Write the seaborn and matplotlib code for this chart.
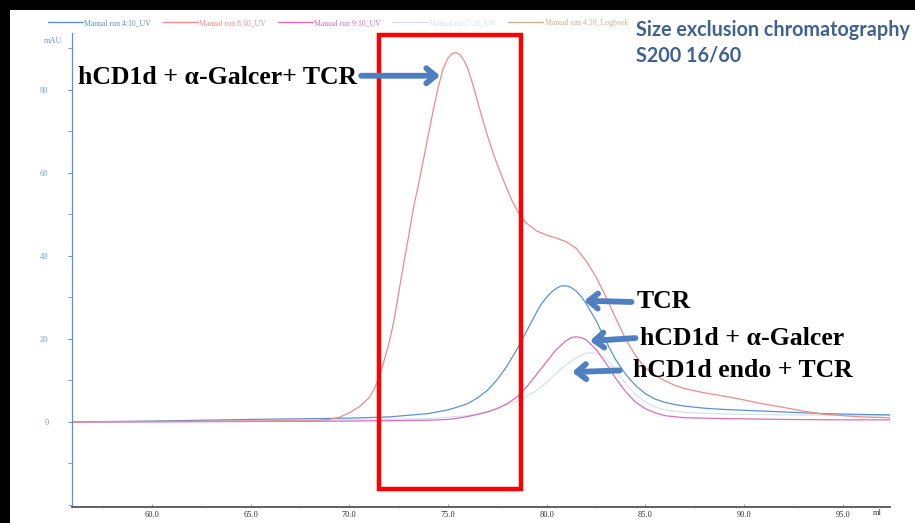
import numpy as np
import pandas as pd
import matplotlib
matplotlib.use('Agg')
import matplotlib.pyplot as plt
import seaborn as sns
from matplotlib.lines import Line2D
from matplotlib.patches import Rectangle
from matplotlib.ticker import MultipleLocator, FormatStrFormatter

# elution volume (ml) and absorbance (mAU)
run8_ml = [56, 60, 65, 68, 68.5, 69, 69.5, 70, 70.5, 71, 71.25, 71.5, 71.75, 72, 72.25, 72.5, 72.75, 73,
           73.25, 73.5, 73.75, 74, 74.25, 74.5, 74.75, 75, 75.2, 75.4, 75.6, 75.8, 76, 76.25, 76.5,
           76.75, 77, 77.25, 77.5, 77.75, 78, 78.25, 78.5, 78.75, 79, 79.5, 80, 80.5, 81, 81.5, 82,
           82.5, 83, 83.5, 84, 84.5, 85, 85.5, 86, 86.5, 87, 88, 89, 90, 91, 92, 93, 94, 95, 96, 97.4]
run8_mau = [0.0, 0.1, 0.2, 0.3, 0.4, 0.6, 1.1, 2.2, 3.6, 5.8, 7.8, 10.5, 14.5, 18.8, 24, 31, 38, 44.5,
            51.5, 57, 63, 69, 75, 80.5, 85, 87.6, 88.7, 89, 88.5, 87.2, 85.2, 81.5, 77.2,
            73, 69, 65.3, 62, 59, 56, 53.3, 51, 49.2, 47.8, 46, 45, 44.3, 43.4, 41.8, 38.8,
            35, 30.2, 25, 20, 16, 13, 11.2, 9.9, 8.8, 8.0, 7.0, 6.2, 5.3, 4.3, 3.5, 2.6, 1.9, 1.5, 1.2, 1.0]

run4_ml = [56, 60, 65, 70, 72, 74, 75, 75.5, 76, 76.5, 77, 77.5, 78, 78.5, 79, 79.5, 79.75, 80,
           80.25, 80.5, 80.7, 80.9, 81.1, 81.3, 81.5, 81.75, 82, 82.5, 83, 83.5, 84, 84.5, 85, 85.5,
           86, 86.5, 87, 88, 89, 90, 92, 94, 96, 97.4]
run4_mau = [0.0, 0.2, 0.6, 0.9, 1.2, 2.0, 2.9, 3.6, 4.4, 5.8, 7.6, 10.2, 13.5, 17.5, 22, 26.5, 28.5, 30,
            31.3, 32.2, 32.7, 32.8, 32.7, 32.2, 31.5, 30.2, 28.5, 24.5, 19.5, 15, 11.5, 8.8, 6.8, 5.5,
            4.7, 4.2, 3.8, 3.3, 3.0, 2.8, 2.4, 2.0, 1.8, 1.7]

run9_ml = [56, 60, 65, 70, 74, 75, 75.5, 76, 76.5, 77, 77.5, 78, 78.5, 79, 79.5, 80, 80.5, 81,
           81.25, 81.5, 81.75, 82, 82.5, 83, 83.5, 84, 84.5, 85, 85.5, 86, 87, 89, 92, 95, 97.4]
run9_mau = [0.0, 0.0, 0.1, 0.2, 0.4, 0.6, 0.9, 1.3, 1.8, 2.4, 3.2, 4.4, 6.0, 8.5, 11.5, 14.5, 17.5, 19.6,
            20.3, 20.5, 20.3, 19.8, 17.5, 14.2, 10.5, 7.3, 4.8, 3.2, 2.2, 1.5, 1.0, 0.8, 0.6, 0.5, 0.5]

run7_ml = [56, 60, 65, 70, 74, 76, 77, 77.5, 78, 78.5, 79, 79.5, 80, 80.5, 81, 81.5, 82, 82.5,
           83, 83.5, 84, 84.5, 85, 85.5, 86, 87, 89, 92, 95, 97.4]
run7_mau = [0.0, 0.1, 0.3, 0.5, 0.8, 1.5, 2.5, 3.4, 4.2, 5.0, 6.2, 7.6, 9.5, 11.8, 13.8, 15.5, 16.6, 16.6,
            15.3, 12.5, 9.2, 6.6, 4.8, 3.6, 2.9, 2.3, 1.9, 1.7, 1.6, 1.5]

run_names = ['Manual run 4:10_UV', 'Manual run 8:10_UV', 'Manual run 9:10_UV',
             'Manual run 7:10_UV', 'Manual run 4:10_Logbook']
run_colors = ['#5b93cf', '#f08a8a', '#e06cb8', '#d6e4ea', '#c9b28c']

x_ticks = [60.0, 65.0, 70.0, 75.0, 80.0, 85.0, 90.0, 95.0]
y_ticks = [0, 20, 40, 60, 80]

frames = []
for name, xs, ys in [(run_names[0], run4_ml, run4_mau), (run_names[1], run8_ml, run8_mau),
                     (run_names[2], run9_ml, run9_mau), (run_names[3], run7_ml, run7_mau)]:
    frames.append(pd.DataFrame({'ml': xs, 'mAU': ys, 'run': name}))
df = pd.concat(frames, ignore_index=True)

sns.set_theme(style='white')
plt.rcParams['font.family'] = ['Liberation Serif', 'DejaVu Serif']

W, H = 915, 523
fig = plt.figure(figsize=(W / 100, H / 100), dpi=100, facecolor='black')
fig.patches.append(Rectangle((10 / W, 0), 1, (H - 10) / H, transform=fig.transFigure,
                             facecolor='white', edgecolor='none', zorder=-10))

ax = fig.add_axes([72 / W, 16 / H, (890 - 72) / W, (507 - 33) / H])
ax.set_facecolor('none')

# lightest trace first so the others sit on top
order = [run_names[3], run_names[0], run_names[2], run_names[1]]
pal = dict(zip(run_names, run_colors))
for name in order:
    sns.lineplot(data=df[df['run'] == name], x='ml', y='mAU', color=pal[name],
                 linewidth=0.9, sort=False, estimator=None, ax=ax)

ax.set_xlim(55.95, 97.4)
ax.set_ylim(-20.5, 93.7)
ax.set_xticks(x_ticks)
ax.xaxis.set_major_formatter(FormatStrFormatter('%.1f'))
ax.set_yticks(y_ticks)
ax.yaxis.set_minor_locator(MultipleLocator(10))
ax.xaxis.set_minor_locator(MultipleLocator(2.5))
ax.set_xlabel('')
ax.set_ylabel('')

for s in ['top', 'right']:
    ax.spines[s].set_visible(False)
ax.spines['left'].set_color('#5b93cf')
ax.spines['left'].set_linewidth(0.9)
ax.spines['bottom'].set_color('#555555')
ax.spines['bottom'].set_linewidth(1.3)

ax.tick_params(axis='y', which='major', direction='out', length=3, width=0.8, color='#5b93cf',
               labelsize=6, labelcolor='#6d9fd6', pad=14, left=True)
ax.tick_params(axis='y', which='minor', direction='out', length=3, width=0.6, color='#5b93cf', left=True)
ax.tick_params(axis='x', which='major', direction='in', length=2, width=0.6, color='#888888',
               labelsize=6, labelcolor='#333333', pad=3, bottom=True)
ax.tick_params(axis='x', which='minor', direction='in', length=1.5, width=0.5, color='#aaaaaa', bottom=True)

fig.text(53 / W, 1 - 41 / H, 'mAU', fontsize=6, color='#6d9fd6', ha='center', va='center')
fig.text(877 / W, 1 - 513 / H, 'ml', fontsize=6, color='#333333', ha='center', va='center')

# legend strip above the plot
handles = [Line2D([], [], color=c, linewidth=1.0) for c in run_colors]
leg = fig.legend(handles, run_names, loc='center left', bbox_to_anchor=(48 / W, 1 - 23 / H),
                 ncol=5, frameon=False, fontsize=5.6, handlelength=4.5, handletextpad=0.15,
                 columnspacing=1.55, borderaxespad=0, borderpad=0)
for txt, c in zip(leg.get_texts(), run_colors):
    txt.set_color(c)

# title
fig.text(636 / W, 1 - 30 / H, 'Size exclusion chromatography', fontsize=14.2, fontweight='bold',
         color='#3f6291', family=['Lato', 'DejaVu Sans'], ha='left', va='center')
fig.text(636 / W, 1 - 55 / H, 'S200 16/60', fontsize=14.2, fontweight='bold',
         color='#3f6291', family=['Lato', 'DejaVu Sans'], ha='left', va='center')

# highlight box around the complex peak
ax.add_patch(Rectangle((71.5, -16.1), 78.69 - 71.5, 93.3 + 16.1, fill=False,
                       edgecolor='#ff0000', linewidth=3.2, clip_on=False, zorder=5))

arrow_kw = dict(arrowstyle='->,head_length=0.55,head_width=0.45', color='#4f7fbf', lw=4.2,
                shrinkA=0, shrinkB=0)
label_kw = dict(fontsize=18.5, fontweight='bold', color='black', va='center')

ax.annotate('', xy=(74.6, 83.4), xytext=(70.6, 83.4), arrowprops=arrow_kw, zorder=6)
ax.text(56.25, 83.0, 'hCD1d + α-Galcer+ TCR', ha='left', **label_kw)

ax.annotate('', xy=(81.9, 29.2), xytext=(84.3, 28.9), arrowprops=arrow_kw, zorder=6)
ax.text(84.57, 29.0, 'TCR', ha='left', **label_kw)

ax.annotate('', xy=(82.2, 19.5), xytext=(84.5, 20.2), arrowprops=arrow_kw, zorder=6)
ax.text(84.72, 20.0, 'hCD1d + α-Galcer', ha='left', **label_kw)

ax.annotate('', xy=(81.3, 12.0), xytext=(83.7, 12.4), arrowprops=arrow_kw, zorder=6)
ax.text(84.37, 12.3, 'hCD1d endo + TCR', ha='left', **label_kw)

fig.savefig('out.png', dpi=100, facecolor=fig.get_facecolor())
